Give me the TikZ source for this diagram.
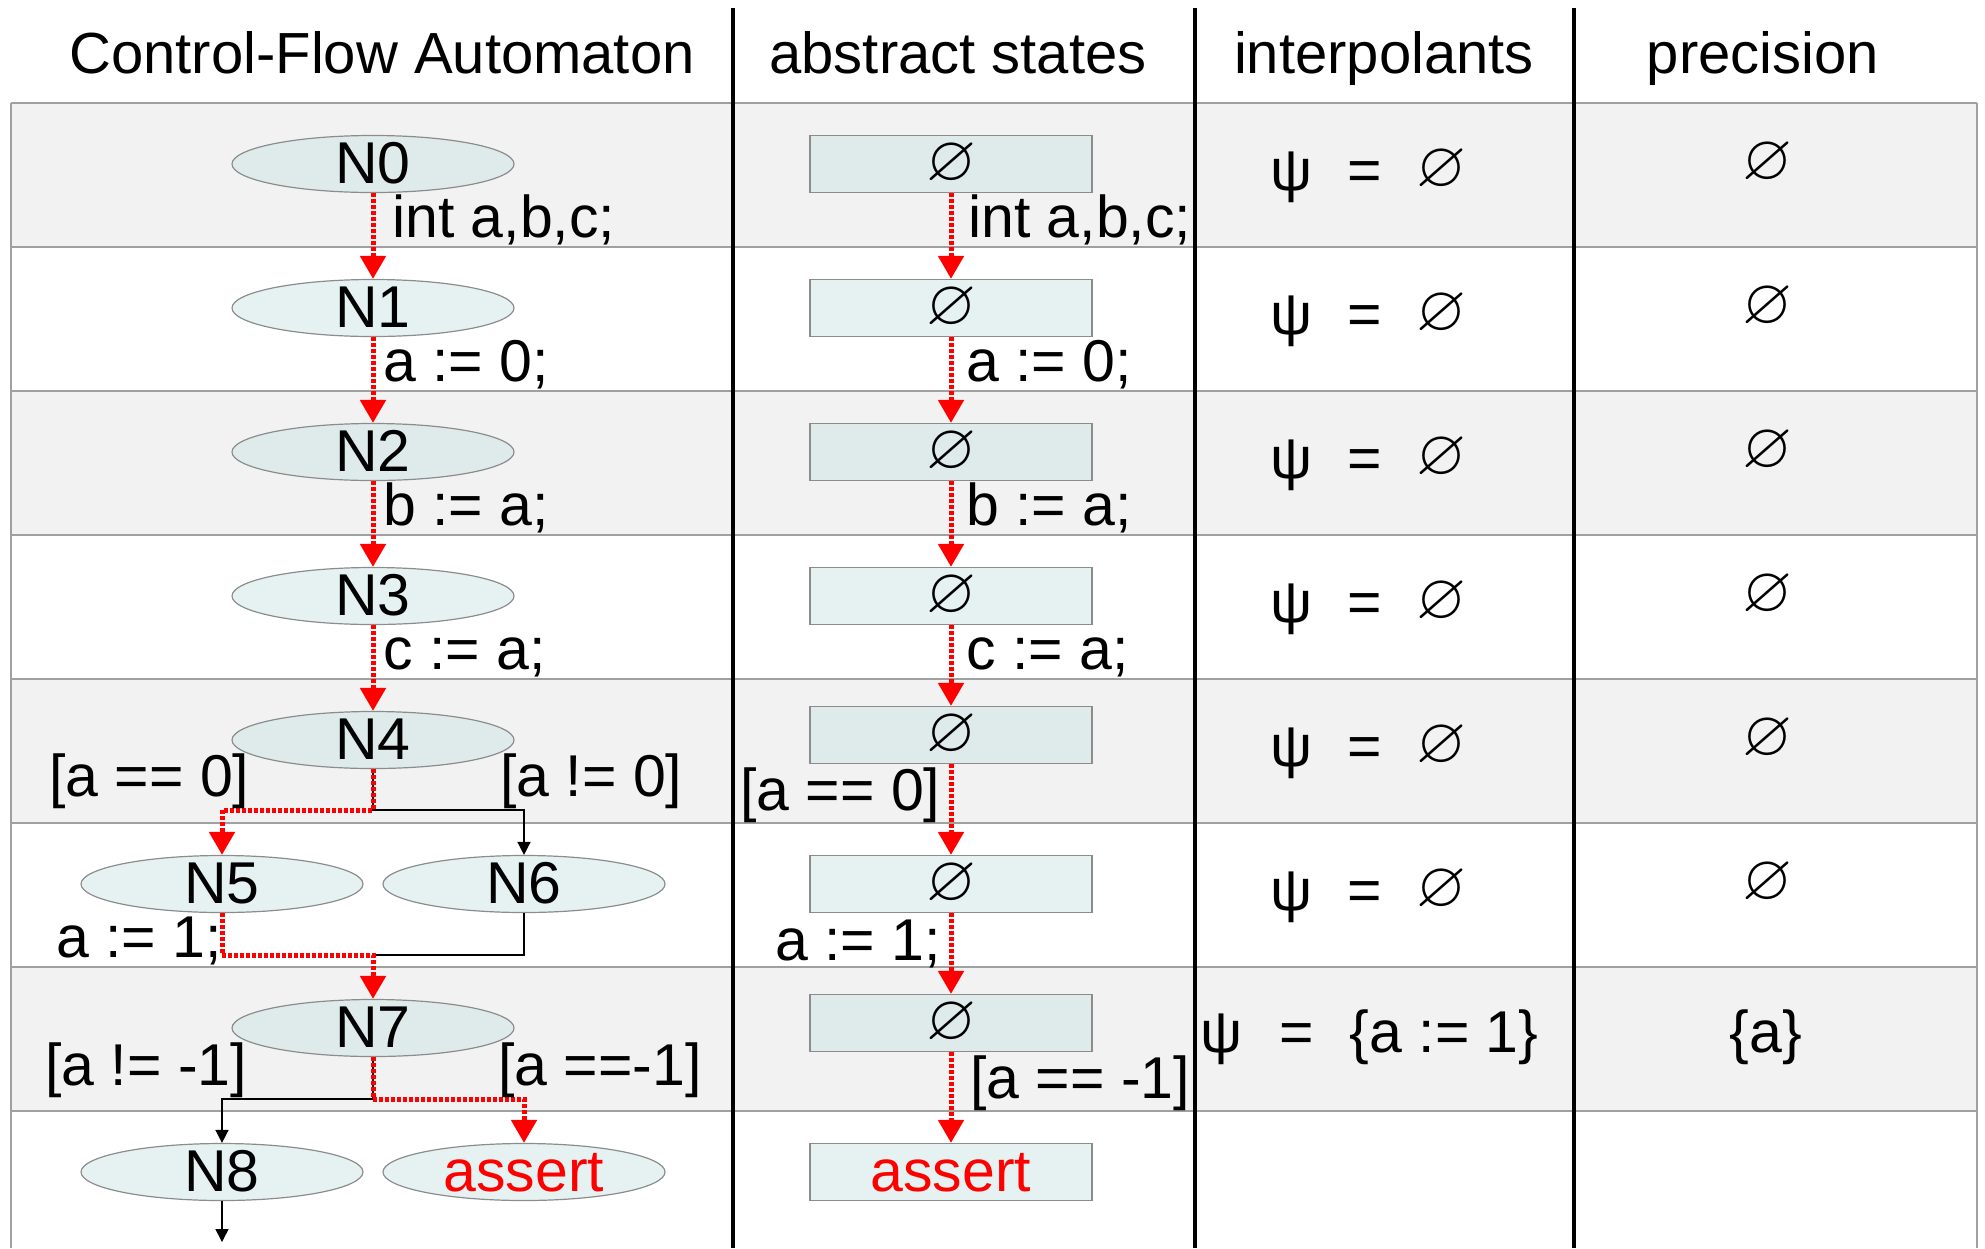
\documentclass[tikz,border=0pt]{standalone}
\usepackage{fontspec}
\setmainfont{Liberation Sans}
\usepackage{amssymb}
\usepackage{graphicx}
\usetikzlibrary{arrows.meta,shapes.geometric}
\definecolor{rowgray}{RGB}{242,242,242}
\definecolor{linegray}{RGB}{160,160,160}
\definecolor{nodeg}{RGB}{223,235,235}
\definecolor{nodew}{RGB}{230,242,242}
\definecolor{nodeborder}{RGB}{140,140,140}
\newcommand\eset{\resizebox{50pt}{!}{\fontsize{10}{12}\selectfont$\varnothing$}}
\begin{document}
\begin{tikzpicture}[x=1pt,y=-1pt,font=\fontsize{59}{70}\selectfont,
  cfanode/.style={ellipse,draw=nodeborder,line width=1.2pt,minimum width=282pt,minimum height=57pt,inner sep=0pt,text height=39pt,text depth=0pt},
  ong/.style={fill=nodeg}, onw/.style={fill=nodew},
  absbox/.style={rectangle,draw=nodeborder,line width=1.2pt,minimum width=282pt,minimum height=57pt,inner sep=0pt},
  lbl/.style={inner sep=0pt},
  hdr/.style={inner sep=0pt,anchor=base,font=\fontsize{58}{70}\selectfont},
  redarr/.style={draw=red,line width=5pt,dash pattern=on 4pt off 2pt,-{Triangle[width=25pt,length=23pt]}},
  blkarr/.style={draw=black,line width=1.5pt,-{Triangle[width=13pt,length=13pt]}},
  blkline/.style={draw=black,line width=1.5pt},
  rowline/.style={draw=linegray,line width=2pt},
  colline/.style={draw=black,line width=3.5pt}]
\useasboundingbox (0,0) rectangle (1985,1248);
% rows
\foreach \t in {103,391,679,967} \fill[rowgray] (11,\t) rectangle (1977,\t+144);
\foreach \t in {103,247,391,535,679,823,967,1111} \draw[rowline] (11,\t) -- (1977,\t);
\draw[rowline] (11,103) -- (11,1248);
\draw[rowline] (1977,103) -- (1977,1248);
\draw[colline] (733,8) -- (733,1248);
\draw[colline] (1195,8) -- (1195,1248);
\draw[colline] (1574,8) -- (1574,1248);
% headers
\node[hdr] (h1) at (382,73) {Control-Flow Automaton};
\node[hdr] (h2) at (958,73) {abstract states};
\node[hdr] (h3) at (1384,73) {interpolants};
\node[hdr] (h4) at (1763,73) {precision};
% CFA nodes
\node[cfanode,ong] (n0) at (373,164) {N0};
\node[cfanode,onw] (n1) at (373,308) {N1};
\node[cfanode,ong] (n2) at (373,452) {N2};
\node[cfanode,onw] (n3) at (373,596) {N3};
\node[cfanode,ong] (n4) at (373,740) {N4};
\node[cfanode,onw] (n5) at (222,884) {N5};
\node[cfanode,onw] (n6) at (524,884) {N6};
\node[cfanode,ong] (n7) at (373,1028) {N7};
\node[cfanode,onw] (n8) at (222,1172) {N8};
\node[cfanode,onw,text=red] (na) at (524,1172) {assert};
% abstract states
\node[absbox,ong] (s0) at (951,164) {\eset};
\node[absbox,onw] (s1) at (951,308) {\eset};
\node[absbox,ong] (s2) at (951,452) {\eset};
\node[absbox,onw] (s3) at (951,596) {\eset};
\node[absbox,ong] (s4) at (951,735) {\eset};
\node[absbox,onw] (s5) at (951,884) {\eset};
\node[absbox,ong] (s6) at (951,1023) {\eset};
\node[absbox,onw,text=red,text height=38pt,text depth=0pt] (s7) at (951,1172) {assert};
% junctions
\coordinate (j1) at (373,810);
\coordinate (j2) at (373,955);
\coordinate (j3) at (373,1099);
\coordinate (e8) at (222,1242);
% black edges
\draw[blkarr] (n4.south) -- (j1) -| (n6.north);
\draw[blkline] (n6.south) |- (j2);
\draw[blkarr] (n7.south) -- (j3) -| (n8.north);
\draw[blkarr] (n8.south) -- (e8);
% red edges
\draw[redarr] (n0.south) -- (n1.north);
\draw[redarr] (n1.south) -- (n2.north);
\draw[redarr] (n2.south) -- (n3.north);
\draw[redarr] (n3.south) -- (n4.north);
\draw[redarr] (n4.south) -- (j1) -| (n5.north);
\draw[redarr] (n5.south) |- (j2) -- (n7.north);
\draw[redarr] (n7.south) -- (j3) -| (na.north);
\draw[redarr] (s0.south) -- (s1.north);
\draw[redarr] (s1.south) -- (s2.north);
\draw[redarr] (s2.south) -- (s3.north);
\draw[redarr] (s3.south) -- (s4.north);
\draw[redarr] (s4.south) -- (s5.north);
\draw[redarr] (s5.south) -- (s6.north);
\draw[redarr] (s6.south) -- (s7.north);
% CFA labels
\node[lbl,anchor=base west] (l01) at (392,237) {int a,b,c;};
\node[lbl,anchor=base west] (l12) at (383,381) {a := 0;};
\node[lbl,anchor=base west] (l23) at (383,525) {b := a;};
\node[lbl,anchor=base west] (l34) at (383,669) {c := a;};
\node[lbl,anchor=base west] (l45) at (49,796) {[a == 0]};
\node[lbl,anchor=base west] (l46) at (500,796) {[a != 0]};
\node[lbl,anchor=base west] (l57) at (56,957) {a := 1;};
\node[lbl,anchor=base west] (l78) at (45,1085) {[a != -1]};
\node[lbl,anchor=base west] (l7a) at (498,1085) {[a ==-1]};
% abstract labels
\node[lbl,anchor=base west] (m01) at (968,237) {int a,b,c;};
\node[lbl,anchor=base west] (m12) at (966,381) {a := 0;};
\node[lbl,anchor=base west] (m23) at (966,525) {b := a;};
\node[lbl,anchor=base west] (m34) at (966,669) {c := a;};
\node[lbl,anchor=base west] (m45) at (740,810) {[a == 0]};
\node[lbl,anchor=base west] (m56) at (775,960) {a := 1;};
\node[lbl,anchor=base west] (m67) at (970,1098) {[a == -1]};
% interpolants
\foreach \k in {0,...,5} {
  \node[lbl,anchor=base west] (i\k) at (1270,190+144*\k) {ψ\hspace{35pt}=\hspace{35pt}\raisebox{4pt}{\eset}};
  \node[lbl] (p\k) at (1767,163+144*\k) {\eset};
}
\node[lbl,anchor=base west] (i6) at (1200,1052) {ψ\hspace{37pt}=\hspace{36pt}\{a := 1\}};
\node[lbl,anchor=base] (p6) at (1766,1052) {\{a\}};
\end{tikzpicture}
\end{document}
